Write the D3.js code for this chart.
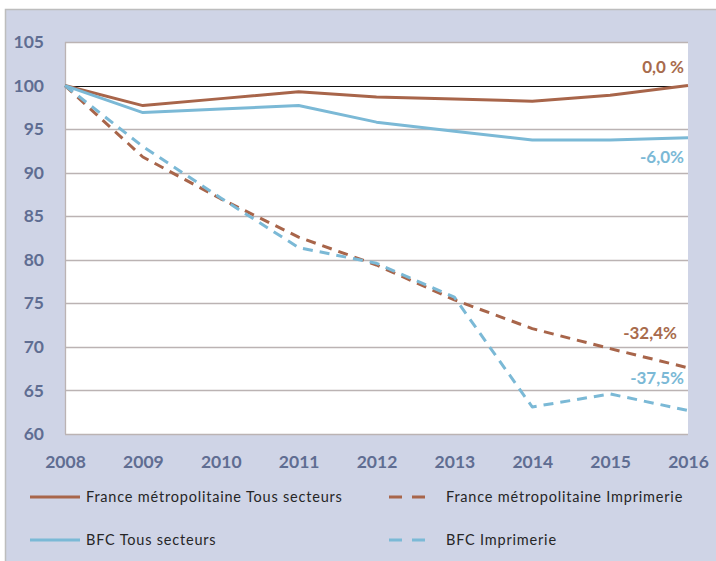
<!DOCTYPE html>
<html><head><meta charset="utf-8">
<script src="https://cdn.jsdelivr.net/npm/d3@7"></script>
<style>body{margin:0;background:#fff}svg{display:block}</style>
</head><body>
<svg id="c" width="716" height="561"></svg>
<script>
const years = [2008, 2009, 2010, 2011, 2012, 2013, 2014, 2015, 2016];
const franceTous = [100, 97.7, 98.5, 99.3, 98.7, 98.45, 98.2, 98.9, 100];
const bfcTous = [100, 96.9, 97.3, 97.7, 95.8, 94.75, 93.75, 93.75, 94.0];
const franceImpr = [100, 91.8, 87.0, 82.6, 79.4, 75.4, 72.1, 69.8, 67.6];
const bfcImpr = [100, 93.0, 87.1, 81.4, 79.6, 75.7, 63.1, 64.6, 62.7];
const yTicks = [60, 65, 70, 75, 80, 85, 90, 95, 100, 105];
const seriesNames = ["France métropolitaine Tous secteurs", "France métropolitaine Imprimerie", "BFC Tous secteurs", "BFC Imprimerie"];
const endLabels = ["0,0 %", "-32,4%", "-6,0%", "-37,5%"];

const BROWN = "#A8654A", BLUE = "#7BB9D6", AX = "#5F6D92";
const FONT = "Lato, 'Open Sans', sans-serif";
const series = [
  {name: seriesNames[0], values: franceTous, color: BROWN, dash: null, label: endLabels[0], lx: 684, ly: 67},
  {name: seriesNames[1], values: franceImpr, color: BROWN, dash: "10,7", label: endLabels[1], lx: 677, ly: 333},
  {name: seriesNames[2], values: bfcTous, color: BLUE, dash: null, label: endLabels[2], lx: 684, ly: 157},
  {name: seriesNames[3], values: bfcImpr, color: BLUE, dash: "10,7", label: endLabels[3], lx: 684, ly: 378}
];

const svg = d3.select("#c");
svg.append("rect").attr("x", 5.5).attr("y", 9.5).attr("width", 712).attr("height", 560)
  .attr("fill", "#CFD4E6").attr("stroke", "#BDBDBD").attr("stroke-width", 1.5);

const L = 65, R = 688, T = 42, B = 434;
const x = d3.scaleLinear().domain([2008, 2016]).range([L, R]);
const y = d3.scaleLinear().domain([60, 105]).range([B, T]);

svg.append("rect").attr("x", L).attr("y", T).attr("width", R - L).attr("height", B - T).attr("fill", "#fff");

svg.append("g").selectAll("line").data(yTicks).join("line")
  .attr("x1", L).attr("x2", R).attr("y1", d => Math.round(y(d)) + 0.5).attr("y2", d => Math.round(y(d)) + 0.5)
  .attr("stroke", d => d === 100 ? "#111" : "#BBB3B3").attr("stroke-width", d => d === 100 ? 1.2 : 1.3);
svg.append("line").attr("x1", L + 0.5).attr("x2", L + 0.5).attr("y1", T).attr("y2", B).attr("stroke", "#BBB3B3").attr("stroke-width", 1.3);

const yAxis = svg.append("g").attr("transform", `translate(${L - 21},0)`)
  .call(d3.axisLeft(y).tickValues(yTicks).tickSize(0).tickPadding(0));
yAxis.select(".domain").remove();
yAxis.selectAll("text").attr("fill", AX).attr("font-family", FONT)
  .attr("font-weight", "bold").attr("font-size", 17.5);

const xAxis = svg.append("g").attr("transform", `translate(0,${B + 28})`)
  .call(d3.axisBottom(x).tickValues(years).tickFormat(d3.format("d")).tickSize(0).tickPadding(0));
xAxis.select(".domain").remove();
xAxis.selectAll("text").attr("fill", AX).attr("font-family", FONT)
  .attr("font-weight", "bold").attr("font-size", 17.5).attr("dy", "0.35em");

const line = d3.line().x((d, i) => x(years[i])).y(d => y(d));
const order = [1, 3, 0, 2];
order.forEach(k => {
  const s = series[k];
  svg.append("path").attr("d", line(s.values)).attr("fill", "none")
    .attr("stroke", s.color).attr("stroke-width", 3)
    .attr("stroke-dasharray", s.dash).attr("stroke-linejoin", "round");
});
series.forEach(s => {
  svg.append("text").attr("x", s.lx).attr("y", s.ly).attr("dy", "0.35em").attr("text-anchor", "end")
    .attr("fill", s.color === BROWN ? "#A86B4C" : "#7BB9D6")
    .attr("font-family", FONT).attr("font-weight", "bold").attr("font-size", 17)
    .text(s.label);
});

const legPos = [[30, 497], [389, 497], [30, 540], [389, 540]];
series.forEach((s, i) => {
  const [lx, ly] = legPos[i];
  const g = svg.append("g").attr("transform", `translate(${lx},${ly})`);
  if (s.dash) {
    g.append("line").attr("x1", 0).attr("x2", 36).attr("y1", 0).attr("y2", 0)
      .attr("stroke", s.color).attr("stroke-width", 3).attr("stroke-dasharray", "13,10");
  } else {
    g.append("line").attr("x1", 0).attr("x2", 50).attr("y1", 0).attr("y2", 0)
      .attr("stroke", s.color).attr("stroke-width", 3);
  }
  g.append("text").attr("x", s.dash ? 57 : 56).attr("y", 0).attr("dy", "0.35em")
    .attr("fill", "#262626").attr("font-family", FONT).attr("font-size", 14.5)
    .attr("letter-spacing", 0.8)
    .text(s.name);
});
</script>
</body></html>
